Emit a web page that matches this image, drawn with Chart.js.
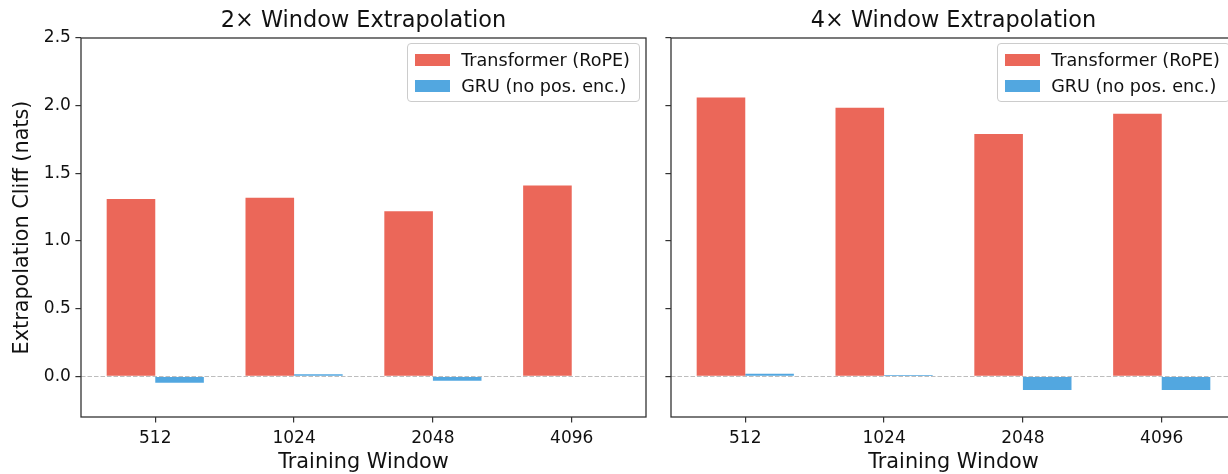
<!DOCTYPE html>
<html>
<head>
<meta charset="utf-8">
<title>Extrapolation Cliff</title>
<script src="https://cdn.jsdelivr.net/npm/chart.js@4.4.1/dist/chart.umd.min.js"></script>
<style>
  html, body { margin: 0; padding: 0; overflow: hidden; background: #fff; }
  body { width: 1228px; height: 474px; position: relative; }
  .panel { position: absolute; top: 0; height: 474px; }
  #panelLeft { left: 0; width: 660px; }
  #panelRight { left: 660px; width: 590px; }
  .legend {
    position: absolute; top: 43px;
    border: 1px solid #cccccc; border-radius: 4px;
    background: rgba(255, 255, 255, 0.8);
    padding: 3px 9px 2px 7px;
    font: 17.6px "DejaVu Sans", sans-serif; color: #111;
  }
  .legend .row { height: 26px; display: flex; align-items: center; white-space: nowrap; }
  .legend .sw { width: 35px; height: 12px; margin-right: 11px; flex: none; }
</style>
</head>
<body>
<div class="panel" id="panelLeft"><canvas id="chartLeft"></canvas><div class="legend" id="legendLeft"></div></div>
<div class="panel" id="panelRight"><canvas id="chartRight"></canvas><div class="legend" id="legendRight"></div></div>
<script>
const WINDOWS = ['512', '1024', '2048', '4096'];
const SERIES = ['Transformer (RoPE)', 'GRU (no pos. enc.)'];
const TITLES = ['2× Window Extrapolation', '4× Window Extrapolation'];
const TRANSFORMER_2X = [1.31, 1.32, 1.22, 1.41];
const GRU_2X = [-0.047, 0.015, -0.032, 0.004];
const TRANSFORMER_4X = [2.06, 1.985, 1.79, 1.94];
const GRU_4X = [0.02, 0.01, -0.10, -0.10];
const Y_TICKS = [0, 0.5, 1.0, 1.5, 2.0, 2.5];

const RED = 'rgba(231, 76, 60, 0.85)';
const BLUE = 'rgba(52, 152, 219, 0.85)';
const FONT = '"DejaVu Sans", sans-serif';
const INK = '#111';
const SPINE = '#333';

// dashed line at y = 0 plus the four-sided frame around the axes
const framePlugin = {
  id: 'frame',
  afterLayout(chart) {
    // centre the title over the plot area, like matplotlib does
    const t = chart.titleBlock;
    if (t) {
      t.left = chart.chartArea.left;
      t.right = chart.chartArea.right;
      t.width = t.right - t.left;
    }
  },
  afterDatasetsDraw(chart) {
    const { ctx, chartArea: a, scales } = chart;
    const y0 = Math.round(scales.y.getPixelForValue(0)) + 0.5;
    ctx.save();
    ctx.strokeStyle = '#bdbdbd';
    ctx.lineWidth = 1;
    ctx.setLineDash([4.5, 2]);
    ctx.beginPath();
    ctx.moveTo(a.left, y0);
    ctx.lineTo(a.right, y0);
    ctx.stroke();
    ctx.setLineDash([]);
    ctx.strokeStyle = SPINE;
    ctx.lineWidth = 1.3;
    ctx.strokeRect(a.left, a.top, a.right - a.left, a.bottom - a.top);
    ctx.restore();
  }
};

function toPoints(values) {
  return values.map((v, i) => ({ x: i, y: v }));
}

function makePanel(canvasId, legendId, title, tValues, gValues, showYLabels) {
  const yWidth = showYLabels ? 81 : 11;
  const chart = new Chart(document.getElementById(canvasId), {
    type: 'bar',
    data: {
      datasets: [
        { label: SERIES[0], data: toPoints(tValues), backgroundColor: RED, borderWidth: 0 },
        { label: SERIES[1], data: toPoints(gValues), backgroundColor: BLUE, borderWidth: 0 }
      ]
    },
    options: {
      responsive: true,
      maintainAspectRatio: false,
      animation: false,
      events: [],
      layout: { padding: { left: 0, right: 14, top: 0, bottom: 0 } },
      datasets: { bar: { categoryPercentage: 0.7, barPercentage: 1.0, grouped: true } },
      plugins: {
        legend: { display: false },
        tooltip: { enabled: false },
        title: {
          display: true, text: title, color: INK,
          font: { family: FONT, size: 22.4, weight: 'normal', lineHeight: 1.2 },
          padding: { top: 7.3, bottom: 3.82 }
        }
      },
      scales: {
        x: {
          type: 'linear', min: -0.535, max: 3.535, offset: false,
          afterBuildTicks: s => { s.ticks = WINDOWS.map((_, i) => ({ value: i })); },
          afterFit: s => { s.height = 57; },
          grid: { offset: false, drawOnChartArea: false, drawTicks: true, tickLength: 5.6, color: SPINE, lineWidth: 1.2 },
          border: { display: false },
          ticks: {
            autoSkip: false, maxRotation: 0, padding: 5.5, color: INK,
            font: { family: FONT, size: 17 },
            callback: v => WINDOWS[v]
          },
          title: {
            display: true, text: 'Training Window', color: INK,
            font: { family: FONT, size: 20.8, lineHeight: 1 },
            padding: { top: 2, bottom: 0.6 }
          }
        },
        y: {
          min: -0.3, max: 2.5,
          afterBuildTicks: s => { s.ticks = Y_TICKS.map(v => ({ value: v })); },
          afterFit: s => { s.width = yWidth; },
          grid: { drawOnChartArea: false, drawTicks: true, tickLength: 5.6, color: SPINE, lineWidth: 1.2 },
          border: { display: false },
          ticks: {
            display: showYLabels, padding: 4.5, color: INK,
            font: { family: FONT, size: 17 },
            callback: v => v.toFixed(1)
          },
          title: {
            display: showYLabels, text: 'Extrapolation Cliff (nats)', color: INK,
            font: { family: FONT, size: 20.8, lineHeight: 1 },
            padding: { top: 12, bottom: 4 }
          }
        }
      }
    },
    plugins: [framePlugin]
  });

  const legendEl = document.getElementById(legendId);
  chart.data.datasets.forEach(ds => {
    const row = document.createElement('div');
    row.className = 'row';
    const sw = document.createElement('span');
    sw.className = 'sw';
    sw.style.background = ds.backgroundColor;
    const txt = document.createElement('span');
    txt.textContent = ds.label;
    row.appendChild(sw);
    row.appendChild(txt);
    legendEl.appendChild(row);
  });
  const panelWidth = chart.canvas.parentNode.clientWidth;
  legendEl.style.right = (panelWidth - chart.chartArea.right + 6) + 'px';
  legendEl.style.top = (chart.chartArea.top + 5) + 'px';
  return chart;
}

makePanel('chartLeft', 'legendLeft', TITLES[0], TRANSFORMER_2X, GRU_2X, true);
makePanel('chartRight', 'legendRight', TITLES[1], TRANSFORMER_4X, GRU_4X, false);
</script>
</body>
</html>
